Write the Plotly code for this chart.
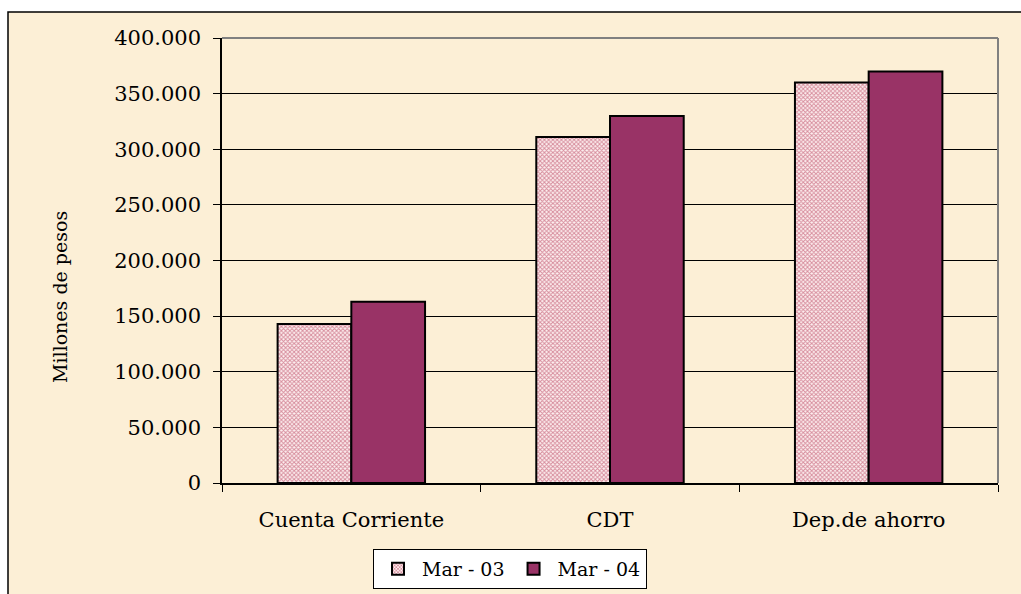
import plotly.graph_objects as go

categories = ["Cuenta Corriente", "CDT", "Dep.de ahorro"]
series_names = ["Mar - 03", "Mar - 04"]
mar03 = [143000, 311000, 360000]
mar04 = [163000, 330000, 370000]
y_ticks = [0, 50000, 100000, 150000, 200000, 250000, 300000, 350000, 400000]

W, H = 1021, 594
L, R, T, B = 222, 998, 38, 483

def px(x):
    return (x - L) / (R - L)

def py(y):
    return (B - y) / (B - T)

FONT = "DejaVu Serif"

fig = go.Figure()
fig.add_trace(go.Bar(
    x=categories, y=mar03, name=series_names[0],
    marker=dict(color="#e0a8b0", line=dict(color="black", width=2),
                pattern=dict(shape="x", fgcolor="#b02a4a", bgcolor="#fdf0f0",
                             size=3, solidity=0.55)),
))
fig.add_trace(go.Bar(
    x=categories, y=mar04, name=series_names[1],
    marker=dict(color="#993366", line=dict(color="black", width=2)),
))

shapes = [
    # parchment chart area with black border
    dict(type="rect", xref="paper", yref="paper", layer="below",
         x0=px(8), x1=px(1030), y0=py(600), y1=py(12),
         fillcolor="#fcefd6", line=dict(color="black", width=1.5)),
    # gray top and right borders of plot area
    dict(type="line", xref="paper", yref="paper", layer="above",
         x0=0, x1=1, y0=1, y1=1, line=dict(color="#808080", width=2)),
    dict(type="line", xref="paper", yref="paper", layer="above",
         x0=1, x1=1, y0=0, y1=1, line=dict(color="#808080", width=2)),
]

annotations = [
    dict(text="Millones de pesos", xref="paper", yref="paper",
         x=px(47), y=py(297), textangle=-90, showarrow=False,
         font=dict(family=FONT, size=19, color="black")),
]

fig.update_layout(
    width=W, height=H,
    margin=dict(l=L, r=W - R, t=T, b=H - B, autoexpand=False),
    paper_bgcolor="white",
    plot_bgcolor="#c0c0c0",
    separators=",.",
    barmode="group",
    bargap=0.43,
    bargroupgap=0,
    font=dict(family=FONT, size=21, color="black"),
    showlegend=True,
    legend=dict(orientation="h", x=px(510), xanchor="center",
                y=py(589), yanchor="bottom",
                bgcolor="white", bordercolor="black", borderwidth=1,
                font=dict(family=FONT, size=19), itemwidth=38,
                tracegroupgap=0),
    shapes=shapes,
    annotations=annotations,
)
fig.update_xaxes(
    showline=True, linecolor="black", linewidth=1.5,
    ticks="outside", ticklen=7, tickcolor="black", tickwidth=1,
    tickson="boundaries", showgrid=False,
    ticklabelstandoff=17,
    tickfont=dict(family=FONT, size=21),
)
fig.update_yaxes(
    range=[0, 400000], tickvals=y_ticks, tickformat=",d",
    showline=True, linecolor="black", linewidth=1.5,
    ticks="outside", ticklen=7, tickcolor="black", tickwidth=1,
    showgrid=True, gridcolor="black", gridwidth=1,
    zeroline=False, ticklabelstandoff=8,
    tickfont=dict(family=FONT, size=21),
)

fig.write_html("out.html", config={"displayModeBar": False})

# remove the default page margin so the figure sits at the window origin
with open("out.html", "r", encoding="utf-8") as f:
    html = f.read()
html = html.replace("<head>", "<head><style>html,body{margin:0;padding:0;overflow:hidden;}</style>", 1)
with open("out.html", "w", encoding="utf-8") as f:
    f.write(html)
